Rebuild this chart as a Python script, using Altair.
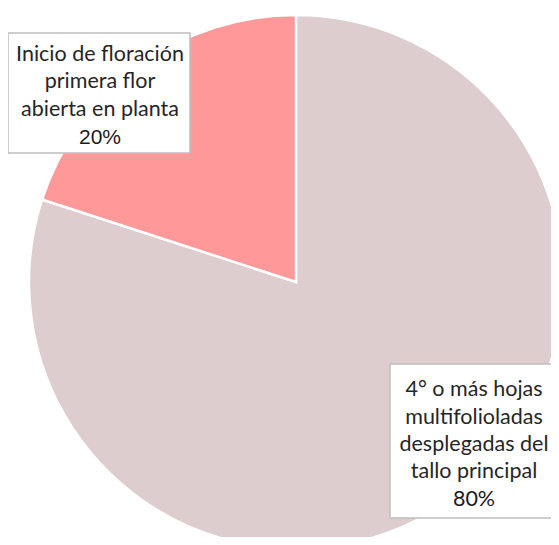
import altair as alt
import pandas as pd

categories = [
    "4° o más hojas multifolioladas desplegadas del tallo principal",
    "Inicio de floración primera flor abierta en planta",
]
label_lines = [
    ["4° o más hojas", "multifolioladas", "desplegadas del", "tallo principal"],
    ["Inicio de floración", "primera flor", "abierta en planta"],
]
values = [80, 20]
colors = ["#DDCDCE", "#FF9999"]

df = pd.DataFrame({"category": categories, "value": values, "order": [0, 1]})
lines_df = pd.DataFrame(
    [{"category": c, "idx": i, "line": t}
     for c, ls in zip(categories, label_lines) for i, t in enumerate(ls)]
)

base = alt.Chart(df)

pie = base.mark_arc(radius=267, stroke="white", strokeWidth=2.5).encode(
    theta=alt.Theta("value:Q", stack=True),
    order=alt.Order("order:Q"),
    color=alt.Color("category:N", scale=alt.Scale(domain=categories, range=colors), legend=None),
    x=alt.value(288),
    y=alt.value(274),
)


def label(cat, box, cx, baselines, pct_font, pct_size):
    x0, x1, y0, y1 = box
    layers = [
        alt.Chart(df).transform_filter(alt.datum.category == cat)
        .mark_rect(fill="white", stroke="#BFBFBF", strokeWidth=1.5)
        .encode(x=alt.value(x0), x2=alt.value(x1), y=alt.value(y0), y2=alt.value(y1))
    ]
    n = len(baselines) - 1
    for i in range(n):
        layers.append(
            alt.Chart(lines_df)
            .transform_filter((alt.datum.category == cat) & (alt.datum.idx == i))
            .mark_text(font="Lato", fontSize=21.5, color="#262626",
                       align="center", baseline="alphabetic")
            .encode(text="line:N", x=alt.value(cx), y=alt.value(baselines[i]))
        )
    layers.append(
        alt.Chart(df).transform_filter(alt.datum.category == cat)
        .transform_calculate(pct="format(datum.value, '.0f') + '%'")
        .mark_text(font=pct_font, fontSize=pct_size, color="#1a1a1a",
                   align="center", baseline="alphabetic")
        .encode(text="pct:N", x=alt.value(cx), y=alt.value(baselines[n]))
    )
    return layers


layers = [pie]
layers += label(categories[1], (0, 182, 25, 145), 92, [52.5, 80, 108, 135.5],
                "Liberation Sans", 21)
layers += label(categories[0], (382, 549, 356, 510), 466, [388, 415.5, 443, 470, 497.5],
                "Lato", 21.5)

chart = alt.layer(*layers).properties(
    width=543, height=529, padding=0,
    autosize=alt.AutoSizeParams(type="none"),
).configure_view(stroke=None)

chart.save("out.html", embed_options={"renderer": "svg", "actions": False})
